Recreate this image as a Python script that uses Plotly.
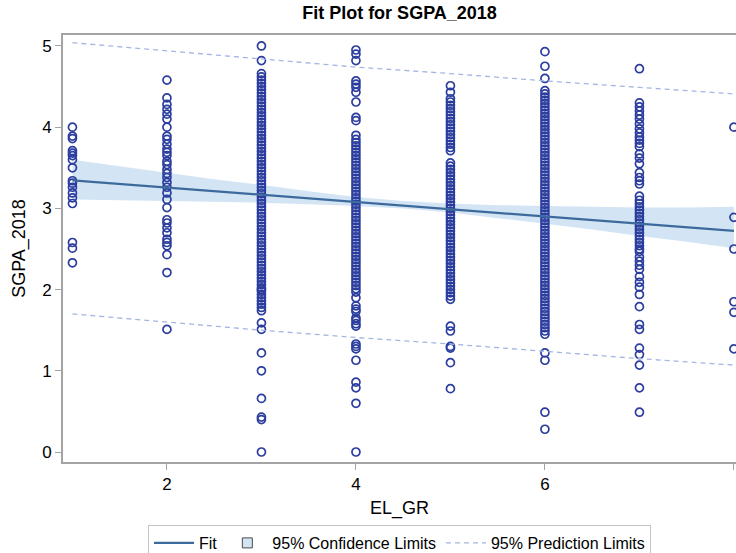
import plotly.graph_objects as go

# ---------------- data ----------------
grp1 = [4.00, 3.89, 3.86, 3.71, 3.68, 3.65, 3.60, 3.50, 3.34, 3.31, 3.26, 3.19, 3.13, 3.06, 2.58, 2.51, 2.33]
grp2 = [4.58, 4.36, 4.28, 4.22, 4.16, 4.10, 4.00, 3.89, 3.85, 3.79, 3.73, 3.69, 3.65, 3.58, 3.54, 3.48, 3.43,
        3.38, 3.32, 3.26, 3.19, 3.11, 3.01, 2.86, 2.82, 2.76, 2.70, 2.62, 2.58, 2.54, 2.43, 2.21, 1.51]
grp3 = [5.00, 4.82,
        4.66, 4.62, 4.58, 4.54, 4.50, 4.46, 4.42, 4.38, 4.34, 4.30, 4.26, 4.22, 4.18, 4.14, 4.10, 4.06, 4.02,
        3.98, 3.94, 3.90, 3.86, 3.82, 3.78, 3.74, 3.70, 3.66, 3.62, 3.58, 3.54, 3.50, 3.46, 3.42, 3.38, 3.34,
        3.30, 3.26, 3.22, 3.18, 3.14, 3.10, 3.06, 3.02, 2.98, 2.94, 2.90, 2.86, 2.82, 2.78, 2.74, 2.70, 2.66,
        2.62, 2.58, 2.54, 2.50, 2.46, 2.42, 2.38, 2.34, 2.30, 2.26, 2.22, 2.18, 2.14, 2.10, 2.06, 2.02, 2.00,
        1.98, 1.94, 1.90, 1.86, 1.82, 1.78, 1.74,
        1.59, 1.51, 1.22, 1.00, 0.66, 0.43, 0.40, 0.00]
grp4 = [4.95, 4.90, 4.82, 4.57, 4.53, 4.49, 4.43, 4.31, 4.12, 4.08, 3.90,
        3.85, 3.81, 3.77, 3.73, 3.69, 3.65, 3.61, 3.57, 3.53, 3.49, 3.45, 3.41, 3.37, 3.33, 3.29, 3.25, 3.21,
        3.17, 3.13, 3.09, 3.05, 3.01, 2.97, 2.93, 2.89, 2.85, 2.81, 2.77, 2.73, 2.69, 2.65, 2.61, 2.57, 2.53,
        2.49, 2.45, 2.41, 2.37, 2.33, 2.29, 2.25, 2.21, 2.17, 2.13, 2.09, 2.05, 2.01, 1.97,
        1.90, 1.80, 1.76, 1.73, 1.65, 1.62, 1.58, 1.55, 1.33, 1.30, 1.27, 1.13, 0.86, 0.79, 0.60, 0.00]
grp5 = [4.51, 4.43,
        4.35, 4.31, 4.27, 4.23, 4.19, 4.15, 4.11, 4.07, 4.03, 3.99, 3.95, 3.91, 3.87, 3.83, 3.79, 3.75, 3.71,
        3.56, 3.52, 3.48, 3.44, 3.40, 3.36, 3.32, 3.28, 3.24, 3.20, 3.16, 3.12, 3.08, 3.04, 3.00, 2.96, 2.92,
        2.88, 2.84, 2.80, 2.76, 2.72, 2.68, 2.64, 2.60, 2.56, 2.52, 2.48, 2.44, 2.40, 2.36, 2.32, 2.28, 2.24,
        2.20, 2.16, 2.12, 2.08, 2.04, 2.00, 1.96, 1.92, 1.88,
        1.55, 1.49, 1.30, 1.28, 1.10, 0.78]
grp6 = [4.93, 4.75, 4.60,
        4.45, 4.41, 4.37, 4.33, 4.29, 4.25, 4.21, 4.17, 4.13, 4.09, 4.05, 4.01, 3.97, 3.93, 3.89, 3.85, 3.81,
        3.77, 3.73, 3.69, 3.65, 3.61, 3.57, 3.53, 3.49, 3.45, 3.41, 3.37, 3.33, 3.29, 3.25, 3.21, 3.17, 3.13,
        3.09, 3.05, 3.01, 2.97, 2.93, 2.89, 2.85, 2.81, 2.77, 2.73, 2.69, 2.65, 2.61, 2.57, 2.53, 2.49, 2.45,
        2.41, 2.37, 2.33, 2.29, 2.25, 2.21, 2.17, 2.13, 2.09, 2.05, 2.01, 1.97, 1.93, 1.89, 1.85, 1.81, 1.77,
        1.73, 1.69, 1.65, 1.61, 1.57, 1.53, 1.49, 1.45,
        1.22, 1.13, 0.49, 0.28]
grp7 = [4.72, 4.30, 4.25, 4.20, 4.15, 4.10, 4.04, 3.98, 3.93, 3.88, 3.84, 3.80, 3.76, 3.67, 3.62, 3.55, 3.44,
        3.38, 3.34, 3.30, 3.15, 3.10,
        3.06, 3.02, 2.98, 2.94, 2.90, 2.86, 2.82, 2.78, 2.74, 2.70, 2.66, 2.62, 2.58, 2.54, 2.50, 2.47,
        2.40, 2.35, 2.30, 2.25, 2.16, 2.09, 2.03, 1.94, 1.79, 1.57, 1.51, 1.28, 1.20, 1.07, 0.79, 0.49]
grp8 = [4.00, 2.89, 2.50, 1.85, 1.72, 1.27]

groups = [1, 2, 3, 4, 5, 6, 7, 8]
group_values = [grp1, grp2, grp3, grp4, grp5, grp6, grp7, grp8]

# regression fit and limits
fit_x = [1, 8]
fit_y = [3.346, 2.722]

band_x = [1, 1.5, 2, 2.5, 3, 3.5, 4, 4.5, 5, 5.5, 6, 6.5, 7, 7.5, 8]
cl_upper = [3.60, 3.52, 3.44, 3.36, 3.29, 3.21, 3.14, 3.09, 3.06, 3.04, 3.03, 3.02, 3.01, 3.01, 3.02]
cl_lower = [3.11, 3.10, 3.09, 3.08, 3.07, 3.05, 3.03, 3.00, 2.95, 2.88, 2.81, 2.74, 2.66, 2.59, 2.51]

pl_x = [1, 2, 3, 4, 5, 6, 7, 8]
pl_upper = [5.04, 4.94, 4.84, 4.74, 4.66, 4.57, 4.49, 4.41]
pl_lower = [1.70, 1.60, 1.50, 1.41, 1.33, 1.24, 1.15, 1.07]

title = "Fit Plot for SGPA_2018"
x_label = "EL_GR"
y_label = "SGPA_2018"
x_ticks = [2, 4, 6, 8]
y_ticks = [0, 1, 2, 3, 4, 5]

# ---------------- styling ----------------
MARKER = "#2b3d9e"
FIT = "#3d6a9c"
BAND = "#d3e5f4"
PRED = "#a3b6e3"
AXIS = "#a3a3a3"
FONT = "Arial, 'Liberation Sans', sans-serif"

pts_x, pts_y = [], []
for g, vals in zip(groups, group_values):
    pts_x += [g] * len(vals)
    pts_y += vals

fig = go.Figure()

# confidence band
fig.add_trace(go.Scatter(x=band_x, y=cl_lower, mode="lines", line=dict(width=0, color=BAND),
                         showlegend=False, hoverinfo="skip"))
fig.add_trace(go.Scatter(x=band_x, y=cl_upper, mode="lines", line=dict(width=0, color=BAND),
                         fill="tonexty", fillcolor=BAND, showlegend=False, hoverinfo="skip"))

# observations
fig.add_trace(go.Scatter(x=pts_x, y=pts_y, mode="markers", showlegend=False,
                         marker=dict(symbol="circle-open", size=8, color=MARKER,
                                     line=dict(width=1.7, color=MARKER))))

# fit line
fig.add_trace(go.Scatter(x=fit_x, y=fit_y, mode="lines", name="Fit",
                         line=dict(color=FIT, width=2.2), legendrank=1))

# legend entry for confidence band
fig.add_trace(go.Scatter(x=[None], y=[None], mode="markers", name="95% Confidence Limits",
                         marker=dict(symbol="square", size=10, color=BAND,
                                     line=dict(color="#4a4a4a", width=1)), legendrank=2))

# prediction limits
fig.add_trace(go.Scatter(x=pl_x + [None] + pl_x, y=pl_upper + [None] + pl_lower, mode="lines",
                         name="95% Prediction Limits", connectgaps=False,
                         line=dict(color=PRED, width=1.3, dash="5px,4px"), legendrank=3))

fig.update_layout(
    width=736, height=553,
    margin=dict(l=63, r=0, t=35, b=91, autoexpand=False),
    plot_bgcolor="white", paper_bgcolor="white",
    font=dict(family=FONT, color="black", size=17),
    title=dict(text="<b>" + title + "</b>", x=0.5, xref="paper", xanchor="center",
               y=1 - 13 / 553, yref="container", yanchor="middle",
               font=dict(size=18, family=FONT, color="black")),
    legend=dict(orientation="h", x=0.5, xref="paper", xanchor="center",
                y=1 - 525 / 553, yref="container", yanchor="top",
                bordercolor="#c4c4c4", borderwidth=1, font=dict(size=16, family=FONT),
                itemwidth=40, tracegroupgap=0, traceorder="normal"),
    showlegend=True,
)
fig.update_xaxes(range=[0.9, 8.022], tickvals=x_ticks, showgrid=False, zeroline=False,
                 showline=True, linecolor=AXIS, linewidth=1.6, mirror=True,
                 ticks="outside", ticklen=6, tickcolor=AXIS, tickwidth=1, automargin=False,
                 tickfont=dict(size=17), title=dict(text=x_label, standoff=8, font=dict(size=18)))
fig.update_yaxes(range=[-0.123, 5.135], tickvals=y_ticks, showgrid=False, zeroline=False,
                 showline=True, linecolor=AXIS, linewidth=1.6, mirror=False,
                 ticks="outside", ticklen=6, tickcolor=AXIS, tickwidth=1, automargin=False,
                 tickfont=dict(size=17), title=dict(text=y_label, standoff=12, font=dict(size=18)))

fig.write_html("out.html", config={"displayModeBar": False},
               post_script="document.body.style.margin='0px';document.body.style.overflow='hidden';")
